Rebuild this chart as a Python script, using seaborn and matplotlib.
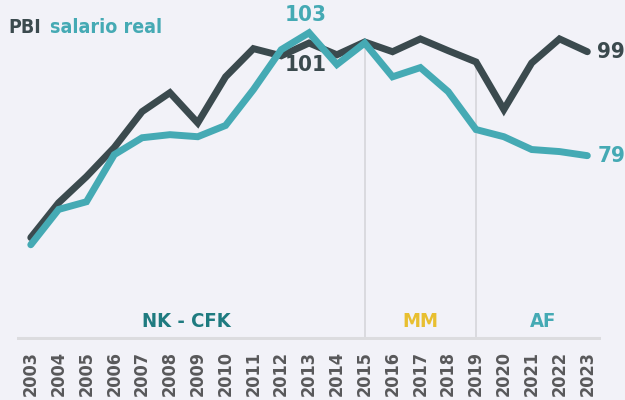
import pandas as pd
import matplotlib
matplotlib.use("Agg")
import matplotlib.pyplot as plt
import seaborn as sns
from matplotlib import font_manager

# data (index, 2003-2023)
years = list(range(2003, 2024))
pbi = [63.0, 69.8, 74.9, 80.6, 87.6, 91.3, 85.4, 94.4, 99.9, 98.5, 101.0,
       98.7, 101.2, 99.3, 101.8, 99.5, 97.3, 88.0, 97.1, 101.8, 99.3]
salario = [61.6, 68.5, 70.0, 79.2, 82.5, 83.1, 82.7, 84.9, 91.9, 99.7, 103.0,
           96.8, 101.0, 94.4, 96.2, 91.5, 84.1, 82.7, 80.2, 79.8, 79.0]
period_breaks = [2015, 2019]
periods = ["NK - CFK", "MM", "AF"]
period_centers = [2008.6, 2017.0, 2021.4]

# colours
bg = "#f2f2f8"
dark = "#3b4a4e"
teal = "#45aab4"
period_colors = ["#1f7b80", "#e8bf30", "#45aab4"]
grey_txt = "#58585a"

sns.set_theme(style="white")

# look for a narrow/condensed bold face, the original uses one
fonts = font_manager.fontManager.ttflist
narrow = [f for f in fonts
          if ("narrow" in f.name.lower() or "condensed" in f.name.lower()
              or str(f.stretch).lower() in ("condensed", "semi-condensed", "575", "500", "625", "750"))
          and f.weight in ("bold", 700, "700")]
font = narrow[0].name if narrow else "DejaVu Sans"
plt.rcParams["font.family"] = [font, "DejaVu Sans"]
plt.rcParams["font.stretch"] = "condensed"

df = pd.DataFrame({"year": years, "pbi": pbi, "salario": salario})

fig = plt.figure(figsize=(6.25, 4), dpi=100, facecolor=bg)
ax = fig.add_axes([0.027, 0.15, 0.935, 0.85])
ax.set_facecolor(bg)

# separators between governments
for yr in period_breaks:
    top = df.loc[df["year"] == yr, ["pbi", "salario"]].max(axis=1).iloc[0]
    ax.vlines(yr, 43, top, color="#d6d6da", lw=1.2, zorder=1)
ax.axhline(43.3, color="#dcdcdf", lw=2.2, zorder=1)

sns.lineplot(data=df, x="year", y="pbi", color=dark, lw=5, ax=ax,
             solid_capstyle="round", solid_joinstyle="miter", zorder=3)
sns.lineplot(data=df, x="year", y="salario", color=teal, lw=5, ax=ax,
             solid_capstyle="round", solid_joinstyle="miter", zorder=4)

ax.set_xlim(2002.5, 2023.5)
ax.set_ylim(43, 109.4)
ax.set_xticks(years)
ax.set_xticklabels([str(y) for y in years], rotation=90, fontsize=13,
                   fontweight="bold", color=grey_txt)
ax.tick_params(axis="x", length=0, pad=8)
ax.set_yticks([])
ax.set_xlabel("")
ax.set_ylabel("")
for s in ax.spines.values():
    s.set_visible(False)

# value labels
ax.text(2012.87, 106.4, "103", color=teal, fontsize=16, fontweight="bold",
        ha="center", va="center")
ax.text(2012.87, 96.8, "101", color=dark, fontsize=16, fontweight="bold",
        ha="center", va="center")
ax.text(2023.36, pbi[-1], "99", color=dark, fontsize=16, fontweight="bold",
        ha="left", va="center")
ax.text(2023.36, salario[-1], "79", color=teal, fontsize=16, fontweight="bold",
        ha="left", va="center")

# period names
for name, xc, col in zip(periods, period_centers, period_colors):
    ax.text(xc, 46.6, name, color=col, fontsize=14.5, fontweight="bold",
            ha="center", va="center")

# legend-like title
fig.text(0.013, 0.932, "PBI", color=dark, fontsize=14, fontweight="bold",
         ha="left", va="center")
fig.text(0.08, 0.932, "salario real", color=teal, fontsize=14,
         fontweight="bold", ha="left", va="center")

fig.savefig("out.png", dpi=100, facecolor=bg)
